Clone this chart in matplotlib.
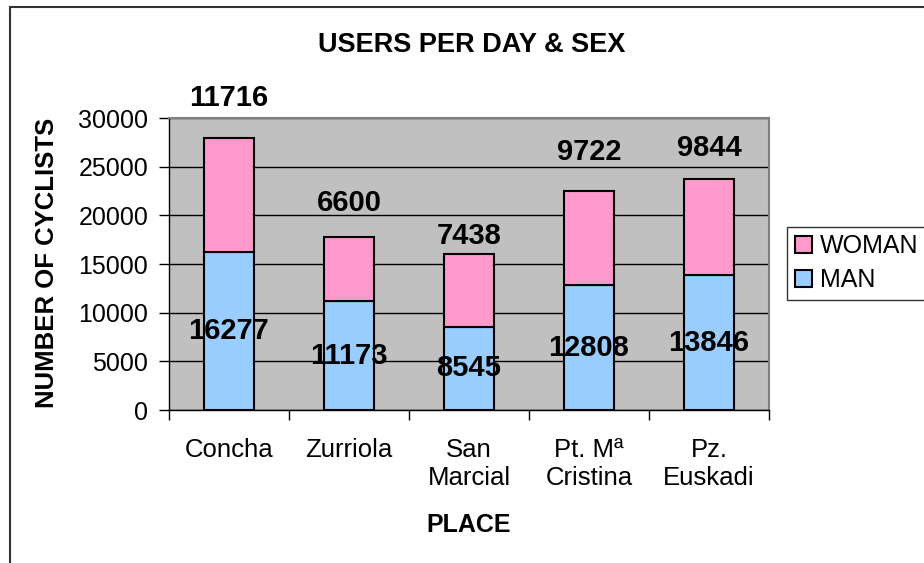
#!/usr/bin/env python3
import matplotlib as mpl
import matplotlib.pyplot as plt
import numpy as np
from matplotlib.patches import Rectangle, Patch

mpl.use("Agg")

# chart data
places = ["Concha", "Zurriola", "San\nMarcial", "Pt. Mª\nCristina", "Pz.\nEuskadi"]
man = [16277, 11173, 8545, 12808, 13846]
woman = [11716, 6600, 7438, 9722, 9844]
y_ticks = [0, 5000, 10000, 15000, 20000, 25000, 30000]

# label lift above each stacked bar, in pixels (as in the sheet)
woman_label_lift = [40, 34, 18, 39, 31]

W, H = 924, 563
plt.rcParams["font.family"] = ["Liberation Sans", "DejaVu Sans"]

fig = plt.figure(figsize=(W / 100, H / 100), dpi=100)

# chart area border (runs off the right and bottom edges)
fig.patches.append(Rectangle(
    (10 / W, -0.05), 1.2, 1 - 7 / H + 0.05,
    transform=fig.transFigure, fill=False,
    edgecolor="#333333", linewidth=1.5,
))

ax = fig.add_axes([169 / W, (H - 410) / H, 600 / W, 292 / H])
ax.set_facecolor("#C0C0C0")

x = np.arange(len(places))
ax.bar(x, man, width=0.41, color="#99CCFF", edgecolor="black",
       linewidth=1.5, zorder=3, label="MAN")
ax.bar(x, woman, width=0.41, bottom=man, color="#FF99CC",
       edgecolor="black", linewidth=1.5, zorder=3, label="WOMAN")

# data labels
for i in range(len(places)):
    ax.text(x[i], man[i] / 2, str(man[i]), ha="center", va="center",
            fontsize=21, fontweight="bold", zorder=5)
    ax.annotate(str(woman[i]), (x[i], man[i] + woman[i]),
                xytext=(0, woman_label_lift[i] * 0.72),
                textcoords="offset points", ha="center", va="center",
                fontsize=21, fontweight="bold", annotation_clip=False)

ax.set_xlim(-0.5, len(places) - 0.5)
ax.set_ylim(0, 30000)
ax.set_yticks(y_ticks)
ax.set_yticklabels([str(v) for v in y_ticks], fontsize=18)
ax.yaxis.grid(True, color="black", linewidth=1, zorder=1)
ax.tick_params(axis="y", length=7, width=1, pad=8)

ax.set_xticks(x)
ax.set_xticklabels(places, fontsize=18.5)
ax.set_xticks(np.arange(len(places) + 1) - 0.5, minor=True)
ax.tick_params(axis="x", which="major", length=0, pad=20)
ax.tick_params(axis="x", which="minor", length=7, width=1)

for side in ["top", "right"]:
    ax.spines[side].set_color("#808080")
    ax.spines[side].set_linewidth(1.5)
for side in ["left", "bottom"]:
    ax.spines[side].set_color("black")
    ax.spines[side].set_linewidth(1)

fig.text(472 / W, 1 - 45 / H, "USERS PER DAY & SEX", ha="center",
         va="center", fontsize=19.5, fontweight="bold")
fig.text(469 / W, 1 - 525 / H, "PLACE", ha="center", va="center",
         fontsize=18, fontweight="bold")
fig.text(47 / W, 1 - 263 / H, "NUMBER OF CYCLISTS", ha="center",
         va="center", rotation=90, fontsize=18.5, fontweight="bold")

handles = [Patch(facecolor="#FF99CC", edgecolor="black", linewidth=1.5),
           Patch(facecolor="#99CCFF", edgecolor="black", linewidth=1.5)]
leg = fig.legend(handles, ["WOMAN", "MAN"], loc="upper left",
                 bbox_to_anchor=(787 / W, 1 - 227 / H), borderaxespad=0,
                 fontsize=18, frameon=True, fancybox=False,
                 edgecolor="black", handlelength=0.7, handleheight=0.7,
                 handletextpad=0.3, labelspacing=0.4, borderpad=0.3)
leg.get_frame().set_linewidth(1)

plt.savefig("out.png", dpi=100)
